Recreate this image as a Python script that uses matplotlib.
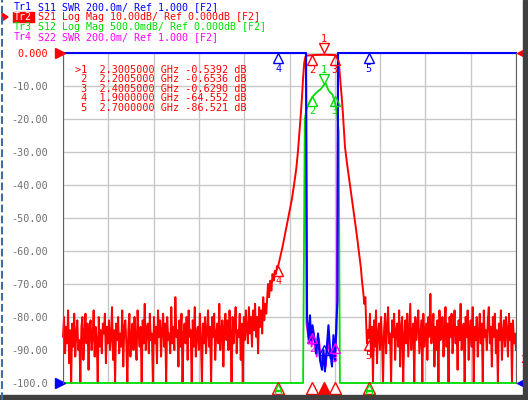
import matplotlib.pyplot as plt
import matplotlib.patches as mpatches
import numpy as np

# ---- data ----
# S21 noise floor left of the filter (0 .. 1.795 GHz), dB
left_noise = [
    -86, -80, -91, -83, -88, -78, -94, -84, -100, -82, -89, -79, -92, -85, -81, -90, -87, -100, -83, -80,
    -93, -85, -79, -88, -82, -96, -84, -81, -90, -86, -78, -92, -83, -87, -100, -80, -89, -84, -91, -82,
    -85, -79, -94, -83, -88, -81, -90, -86, -77, -93, -84, -100, -82, -87, -80, -91, -85, -89, -78, -95,
    -83, -81, -88, -100, -84, -79, -92, -86, -82, -90, -80, -87, -93, -78, -85, -89, -83, -100, -81, -88,
    -76, -90, -84, -82, -91, -79, -87, -85, -100, -80, -88, -83, -94, -78, -86, -81, -92, -84, -79, -89,
    -82, -100, -80, -87, -85, -91, -77, -88, -83, -90, -74, -86, -84, -95, -81, -89, -79, -100, -85, -82,
    -88, -80, -93, -78, -86, -84, -100, -81, -89, -77, -92, -85, -83, -90, -79, -87, -100, -82, -88, -80,
    -91, -84, -78, -89, -83, -100, -80, -86, -79, -93, -85, -82, -88, -76, -90, -84, -81, -95, -83, -79,
    -87, -81, -90, -78, -85, -100, -80, -88, -83, -77, -91, -84, -86, -79, -93, -82, -100, -80, -87, -78,
    -84, -88, -77, -85, -80, -89, -78, -84, -76, -86, -80, -91, -77, -83, -78, -85, -74, -81, -76, -79,
]
# S21 skirts and passband
s21_freq = [1.80, 1.81, 1.82, 1.83, 1.84, 1.85, 1.86, 1.87, 1.88, 1.89, 1.90, 1.92, 1.94, 1.96, 1.98,
            2.00, 2.02, 2.04, 2.06, 2.075, 2.09, 2.10, 2.11, 2.12, 2.13, 2.14, 2.15, 2.17, 2.2005,
            2.23, 2.26, 2.3005, 2.33, 2.36, 2.4005, 2.42, 2.43, 2.44, 2.45, 2.46, 2.47, 2.48, 2.49,
            2.51, 2.53, 2.55, 2.57, 2.59, 2.61, 2.63, 2.64, 2.65, 2.66, 2.67]
s21_db = [-76, -70, -74, -69, -72, -67, -69, -66, -67, -64.6, -64.55, -61.5, -58.5, -55, -51.5,
          -48, -44.5, -40, -35, -29.7, -23, -18.5, -13.5, -7.5, -3, -1.2, -0.8, -0.75, -0.65,
          -0.6, -0.57, -0.54, -0.56, -0.58, -0.63, -0.9, -2.0, -4.5, -9, -13, -17.5, -23, -28.5,
          -34, -39, -44, -49, -54, -59.5, -65, -69, -72, -76, -74]
# S21 noise floor right of the filter (2.675 .. 4.0 GHz), dB
right_noise = [
    -80, -88, -84, -86.5, -79, -92, -83, -100, -81, -89, -78, -94, -85, -82, -90, -80, -87, -100, -84, -79,
    -91, -83, -77, -88, -85, -100, -81, -86, -79, -93, -84, -82, -89, -78, -95, -83, -80, -100, -86, -81,
    -88, -79, -92, -84, -76, -90, -85, -82, -100, -80, -87, -83, -78, -91, -86, -81, -100, -79, -89, -84,
    -82, -93, -80, -86, -73, -88, -84, -79, -95, -83, -90, -81, -100, -78, -87, -85, -80, -92, -84, -77,
    -89, -82, -100, -80, -86, -79, -91, -84, -78, -88, -83, -96, -81, -87, -76, -90, -85, -82, -100, -80,
    -86, -78, -93, -84, -81, -89, -77, -100, -83, -87, -80, -92, -85, -79, -88, -82, -100, -78, -86, -84,
    -90, -81, -77, -88, -83, -95, -80, -86, -79, -91, -84, -100, -82, -87, -78, -93, -85, -81, -89, -80,
    -84, -92, -79, -87, -82, -100, -81, -88, -85, -90,
]
# S12 (0.5 dB/div)
s12_freq = [0.0, 2.12, 2.135, 2.15, 2.175, 2.2005, 2.225, 2.25, 2.275, 2.3005, 2.32,
            2.34, 2.36, 2.38, 2.4005, 2.42, 2.435, 2.445, 4.0]
s12_db = [-60, -60, -1.0, -0.85, -0.75, -0.67, -0.62, -0.58, -0.55, -0.49, -0.46,
          -0.55, -0.6, -0.63, -0.75, -0.9, -1.2, -60, -60]
# S11 / S22 SWR
s11_freq = [0.0, 2.146, 2.155, 2.172, 2.181, 2.19, 2.203, 2.216, 2.234, 2.252, 2.269, 2.287,
            2.300, 2.313, 2.331, 2.344, 2.358, 2.375, 2.388, 2.402, 2.415, 2.424, 2.428, 4.0]
s11_swr = [20, 20, 1.40, 1.24, 1.41, 1.26, 1.35, 1.29, 1.18, 1.30, 1.14, 1.08,
           1.20, 1.07, 1.23, 1.35, 1.20, 1.10, 1.29, 1.14, 1.38, 1.50, 20, 20]
s22_freq = [0.0, 2.144, 2.150, 2.165, 2.18, 2.195, 2.21, 2.225, 2.24, 2.26, 2.28, 2.30,
            2.32, 2.34, 2.36, 2.38, 2.40, 2.415, 2.43, 4.0]
s22_swr = [20, 20, 1.36, 1.28, 1.33, 1.22, 1.30, 1.25, 1.16, 1.27, 1.12, 1.18,
           1.10, 1.26, 1.15, 1.21, 1.13, 1.30, 20, 20]

mk_freq = [2.3005, 2.2005, 2.4005, 1.9, 2.7]
mk_db = [-0.5392, -0.6536, -0.6290, -64.552, -86.521]

ytick_vals = [-100, -90, -80, -70, -60, -50, -40, -30, -20, -10, 0]
ytick_text = ['-100.0', '-90.00', '-80.00', '-70.00', '-60.00', '-50.00',
              '-40.00', '-30.00', '-20.00', '-10.00', '0.000']

RED = '#ff0000'
BLUE = '#0000ff'
GREEN = '#00dd00'
MAG = '#ff00ff'
MONO = 'DejaVu Sans Mono'

W, H = 528, 400
fig = plt.figure(figsize=(W / 100, H / 100), dpi=100)
ax = fig.add_axes([63 / W, 17 / H, 453 / W, 330 / H])
ax.set_xlim(0, 4)
ax.set_ylim(-100, 0)

ax.set_xticks(np.arange(0, 4.01, 0.4))
ax.set_xticklabels([])
ax.set_yticks(ytick_vals)
ax.set_yticklabels(ytick_text, family=MONO, fontsize=7.3, color='#707070')
ax.get_yticklabels()[-1].set_color(RED)
ax.tick_params(length=0, pad=11)
ax.grid(True, color='#c8c8c8', lw=1)
for s in ['top', 'bottom']:
    ax.spines[s].set_visible(False)
for s in ['left', 'right']:
    ax.spines[s].set_color('#606060')

# red S21
f_left = np.linspace(0, 1.795, len(left_noise))
f_right = np.linspace(2.675, 4.0, len(right_noise))
f_all = np.concatenate([f_left, s21_freq, f_right])
d_all = np.clip(np.concatenate([left_noise, s21_db, right_noise]), -100, 0)

ax.plot(s22_freq, np.clip((np.array(s22_swr) - 1) * 50 - 100, -100, 0), color=MAG, lw=1.3, clip_on=False)
ax.plot(f_all, d_all, color=RED, lw=1.4, clip_on=False)
ax.plot(s12_freq, np.clip(np.array(s12_db) * 20, -100, 0), color=GREEN, lw=1.3, clip_on=False)
ax.plot(s11_freq, np.clip((np.array(s11_swr) - 1) * 50 - 100, -100, 0), color=BLUE, lw=1.5, clip_on=False)


def mark(f, y, col, num, up=True, dy=-3.2, filled=False):
    ax.plot([f], [y], marker='^' if up else 'v', ms=7, mfc=col if filled else 'none',
            mec=col, mew=1, clip_on=False)
    ax.text(f, y + dy, num, color=col, fontsize=7.3, family=MONO,
            ha='center', va='center', clip_on=False)


# markers on the traces
mark(mk_freq[0], 1.5, RED, '1', up=False, dy=2.7)
mark(mk_freq[1], -2.1, RED, '2')
mark(mk_freq[2], -2.1, RED, '3')
mark(mk_freq[3], -1.6, BLUE, '4')
mark(mk_freq[4], -1.6, BLUE, '5')
mark(mk_freq[0], -7.9, GREEN, '1', up=False, dy=2.6)
mark(mk_freq[1], -14.5, GREEN, '2')
mark(mk_freq[2], -14.5, GREEN, '3')
mark(mk_freq[3], -66.0, RED, '4')
mark(mk_freq[4], -88.5, RED, '5')
mark(mk_freq[1], -86.5, MAG, '2')
mark(mk_freq[2], -89.5, MAG, '3')
mark(mk_freq[0], -90.0, BLUE, '')

# stimulus indicators under the grid
for i, f in enumerate(mk_freq):
    ax.plot([f], [-101.5], marker='^', ms=8, mfc=RED if i == 0 else 'none', mec=RED, mew=1, clip_on=False)
for f in mk_freq[3:]:
    ax.plot([f], [-101.2], marker='^', ms=4.5, mfc='none', mec=GREEN, mew=1, clip_on=False)
    ax.plot([f], [-103.2], marker='s', ms=4, mfc='none', mec=GREEN, mew=1, clip_on=False)

# reference position arrows
ax.plot([-0.03], [0], marker='>', ms=7, color=RED, clip_on=False)
ax.plot([-0.03], [-100], marker='>', ms=7, color=BLUE, clip_on=False)
ax.plot([4.05], [0], marker='<', ms=7, color=RED, clip_on=False)
ax.plot([4.05], [-100], marker='<', ms=7, color=BLUE, clip_on=False)
ax.text(4.06, -93, '2', color=RED, fontsize=7.3, family=MONO, ha='center', va='center', clip_on=False)

# marker table
rows = ['>1  2.3005000 GHz -0.5392 dB',
        ' 2  2.2005000 GHz -0.6536 dB',
        ' 3  2.4005000 GHz -0.6290 dB',
        ' 4  1.9000000 GHz -64.552 dB',
        ' 5  2.7000000 GHz -86.521 dB']
for i, r in enumerate(rows):
    fig.text(75 / W, 1 - (70 + 9.4 * i) / H, r, color=RED, fontsize=7.3, family=MONO, va='center')

# trace header (trace name, rest of line)
hdr = [('Tr1', 'S11 SWR 200.0m/ Ref 1.000 [F2]', BLUE),
       ('Tr2', 'S21 Log Mag 10.00dB/ Ref 0.000dB [F2]', RED),
       ('Tr3', 'S12 Log Mag 500.0mdB/ Ref 0.000dB [F2]', GREEN),
       ('Tr4', 'S22 SWR 200.0m/ Ref 1.000 [F2]', MAG)]
for i, (tr, t, c) in enumerate(hdr):
    y = 1 - (7 + 10 * i) / H
    fig.text(38 / W, y, t, color=c, fontsize=7.2, family=MONO, va='center')
    if i == 1:
        fig.patches.append(mpatches.Rectangle((13 / W, 1 - 22 / H), 21 / W, 10 / H,
                                              transform=fig.transFigure, color=RED))
        fig.text(14 / W, y, tr, color='white', fontsize=7.2, family=MONO, va='center')
    else:
        fig.text(14 / W, y, tr, color=c, fontsize=7.2, family=MONO, va='center')
fig.patches.append(mpatches.Polygon([(2 / W, 1 - 13 / H), (2 / W, 1 - 21 / H), (8 / W, 1 - 17 / H)],
                                    closed=True, transform=fig.transFigure, color=RED))

# window chrome
fig.add_artist(plt.Line2D([2 / W, 2 / W], [0, 1], color='#3a6ea5', lw=1.5, ls='--'))
fig.patches.append(mpatches.Rectangle((0, 0), 1, 5 / H, transform=fig.transFigure, color='#404040'))
fig.patches.append(mpatches.Rectangle((523 / W, 0), 5 / W, 1, transform=fig.transFigure, color='#404040'))

fig.savefig('out.png', dpi=100)
